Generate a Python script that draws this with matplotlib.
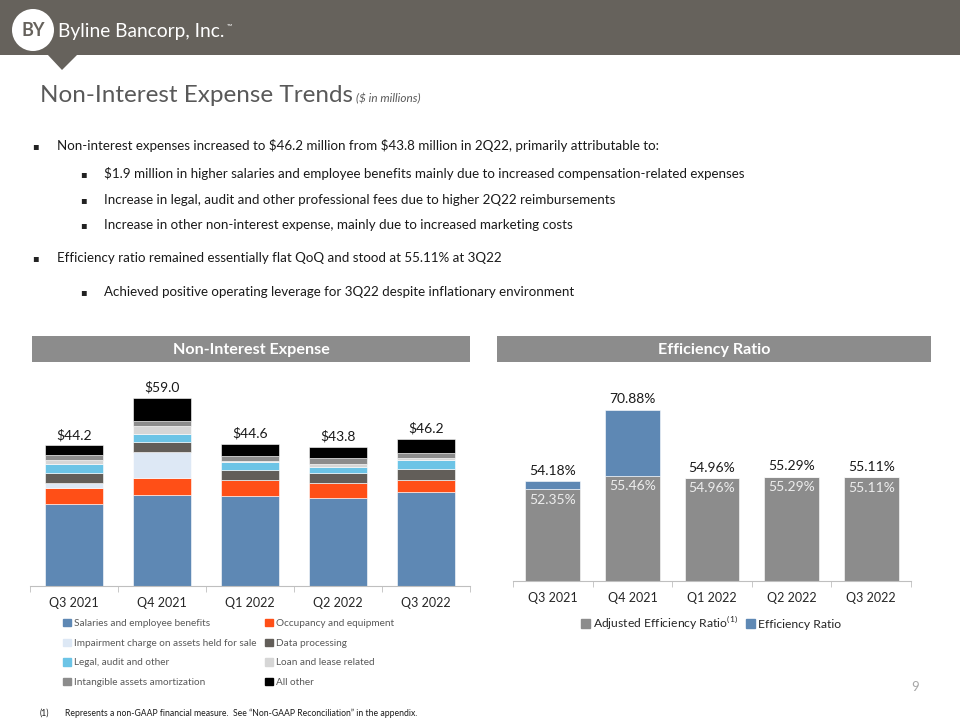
import matplotlib
matplotlib.use("Agg")
import matplotlib.pyplot as plt
from matplotlib.patches import Rectangle, Circle, Polygon, Patch
import numpy as np

W, H = 960, 720

# ---------------------------------------------------------------------------
# Data ($ in millions / %)
# ---------------------------------------------------------------------------
quarters = ["Q3 2021", "Q4 2021", "Q1 2022", "Q2 2022", "Q3 2022"]

salaries = [25.9, 28.7, 28.3, 27.7, 29.5]
occupancy = [4.9, 5.1, 5.1, 4.5, 3.9]
impairment = [1.6, 8.4, 0.0, 0.0, 0.0]
data_processing = [3.0, 2.9, 3.0, 3.2, 3.4]
legal = [2.8, 2.5, 2.6, 1.9, 2.7]
loan_lease = [1.3, 2.5, 0.3, 1.0, 0.7]
intangible = [1.7, 1.6, 1.4, 1.8, 1.6]
all_other = [3.0, 7.3, 3.9, 3.7, 4.4]
expense_totals = [44.2, 59.0, 44.6, 43.8, 46.2]

adjusted_ratio = [52.35, 55.46, 54.96, 55.29, 55.11]
efficiency_ratio = [54.18, 70.88, 54.96, 55.29, 55.11]

expense_series = [
    ("Salaries and employee benefits", salaries, "#5E88B4"),
    ("Occupancy and equipment", occupancy, "#FF4F17"),
    ("Impairment charge on assets held for sale", impairment, "#DDE8F5"),
    ("Data processing", data_processing, "#625E59"),
    ("Legal, audit and other", legal, "#6CC4E6"),
    ("Loan and lease related", loan_lease, "#D6D6D6"),
    ("Intangible assets amortization", intangible, "#8C8C8C"),
    ("All other", all_other, "#000000"),
]

FONT = ["Lato", "DejaVu Sans"]
plt.rcParams["font.family"] = FONT

TEXT_GRAY = "#595959"
HEADER_GRAY = "#66625C"
BOX_GRAY = "#8C8C8C"
AXIS_GRAY = "#BFBFBF"

fig = plt.figure(figsize=(W / 100, H / 100), dpi=100)

# canvas axes in pixel coordinates for the slide decoration
canvas = fig.add_axes([0, 0, 1, 1])
canvas.set_xlim(0, W)
canvas.set_ylim(H, 0)
canvas.axis("off")

# header band, notch and logo
canvas.add_patch(Rectangle((0, 0), W, 55, color=HEADER_GRAY, lw=0))
canvas.add_patch(Polygon([(47, 54), (78, 54), (62, 70)], closed=True, color=HEADER_GRAY, lw=0))
canvas.add_patch(Circle((33, 30), 21, color="white", lw=0))
canvas.text(33, 31, "BY", fontsize=13, fontweight="bold", color=HEADER_GRAY, ha="center", va="center")
canvas.text(58, 31, "Byline Bancorp, Inc.", fontsize=13.8, color="white", ha="left", va="center")
canvas.text(227, 26, "\u2122", fontsize=5, color="white", ha="left", va="center")

# title
canvas.text(40, 102, "Non-Interest Expense Trends", fontsize=17.5, color=TEXT_GRAY, va="baseline")
canvas.text(356, 102, "($ in millions)", fontsize=8.5, style="italic", color=TEXT_GRAY, va="baseline")

# bullets
bullets = [
    (35, 57, 146, r"Non-interest expenses increased to \$46.2 million from \$43.8 million in 2Q22, primarily attributable to:"),
    (83, 104, 174, r"\$1.9 million in higher salaries and employee benefits mainly due to increased compensation-related expenses"),
    (83, 104, 200, "Increase in legal, audit and other professional fees due to higher 2Q22 reimbursements"),
    (83, 104, 225, "Increase in other non-interest expense, mainly due to increased marketing costs"),
    (35, 57, 258, "Efficiency ratio remained essentially flat QoQ and stood at 55.11% at 3Q22"),
    (83, 104, 292, "Achieved positive operating leverage for 3Q22 despite inflationary environment"),
]
for bx, tx, y, txt in bullets:
    canvas.text(bx, y, "\u25aa", fontsize=7, color="#222222", ha="center", va="center", family="DejaVu Sans")
    canvas.text(tx, y, txt, fontsize=9.6, color="#1A1A1A", ha="left", va="center")

# section headers
canvas.add_patch(Rectangle((32, 336), 438, 26, color=BOX_GRAY, lw=0))
canvas.add_patch(Rectangle((497, 336), 434, 26, color=BOX_GRAY, lw=0))
canvas.text(251, 350, "Non-Interest Expense", fontsize=11.6, fontweight="bold", color="white", ha="center", va="center")
canvas.text(714, 350, "Efficiency Ratio", fontsize=11.6, fontweight="bold", color="white", ha="center", va="center")

# page number and footnote
canvas.text(915, 687, "9", fontsize=9.5, color="#A6A6A6", ha="center", va="center")
canvas.text(40, 713, "(1)", fontsize=6.2, color="#1A1A1A", va="center")
canvas.text(65, 713, "Represents a non-GAAP financial measure.  See \u201cNon-GAAP Reconciliation\u201d in the appendix.",
            fontsize=6.2, color="#1A1A1A", va="center")


def style_axis(ax, n):
    for s in ["top", "right", "left"]:
        ax.spines[s].set_visible(False)
    ax.spines["bottom"].set_color(AXIS_GRAY)
    ax.set_yticks([])
    ax.set_xlim(-0.5, n - 0.5)
    ax.set_xticks(np.arange(n))
    ax.set_xticklabels(quarters, fontsize=9, color="#262626")
    ax.tick_params(axis="x", which="major", length=0, pad=8)
    ax.set_xticks(np.arange(n + 1) - 0.5, minor=True)
    ax.tick_params(axis="x", which="minor", length=4, color=AXIS_GRAY)
    ax.patch.set_alpha(0)


# ---------------------------------------------------------------------------
# Non-interest expense stacked bars
# ---------------------------------------------------------------------------
ax1 = fig.add_axes([30 / W, 1 - 586 / H, 440 / W, 207 / H])
x = np.arange(len(quarters))
bottom = np.zeros(len(quarters))
for name, vals, color in expense_series:
    vals = np.array(vals)
    ax1.bar(x, vals, 0.67, bottom=bottom, color=color, edgecolor="white", linewidth=0.4, label=name)
    bottom += vals
ax1.set_ylim(0, 65)
style_axis(ax1, len(quarters))
for i, tot in enumerate(expense_totals):
    ax1.text(i, bottom[i] + 1.3, f"${tot:.1f}", ha="center", va="bottom", fontsize=10, color="#1A1A1A")

order = [0, 2, 4, 6, 1, 3, 5, 7]
leg_h = [Patch(color=expense_series[k][2]) for k in order]
leg_l = [expense_series[k][0] for k in order]
ax1.legend(leg_h, leg_l, ncol=2, loc="upper left", bbox_to_anchor=(58, 614),
           bbox_transform=canvas.transData, frameon=False, fontsize=7.2,
           labelcolor=TEXT_GRAY, handlelength=0.75, handleheight=0.75,
           handletextpad=0.3, labelspacing=1.05, columnspacing=0.9, borderpad=0)

# ---------------------------------------------------------------------------
# Efficiency ratio bars
# ---------------------------------------------------------------------------
ax2 = fig.add_axes([513 / W, 1 - 581 / H, 398 / W, 202 / H])
adj = np.array(adjusted_ratio)
eff = np.array(efficiency_ratio)
ax2.bar(x, adj, 0.69, color="#8C8C8C", edgecolor="white", linewidth=0.4)
ax2.bar(x, eff - adj, 0.69, bottom=adj, color="#5E88B4", edgecolor="white", linewidth=0.4)
ax2.set_ylim(31, 78)
style_axis(ax2, len(quarters))
for i in range(len(quarters)):
    ax2.text(i, eff[i] + 1.0, f"{eff[i]:.2f}%", ha="center", va="bottom", fontsize=10, color="#1A1A1A")
    ax2.text(i, adj[i] - 2.4, f"{adj[i]:.2f}%", ha="center", va="center", fontsize=10, color="#EDEDED")

ax2.legend([Patch(color="#8C8C8C"), Patch(color="#5E88B4")],
           [r"Adjusted Efficiency Ratio$^{\mathregular{(1)}}$", "Efficiency Ratio"],
           ncol=2, loc="center", bbox_to_anchor=(711, 623), bbox_transform=canvas.transData,
           frameon=False, fontsize=8.7, labelcolor="#262626", handlelength=0.75,
           handleheight=0.75, handletextpad=0.3, columnspacing=0.6, borderpad=0)

fig.savefig("out.png", dpi=100)
